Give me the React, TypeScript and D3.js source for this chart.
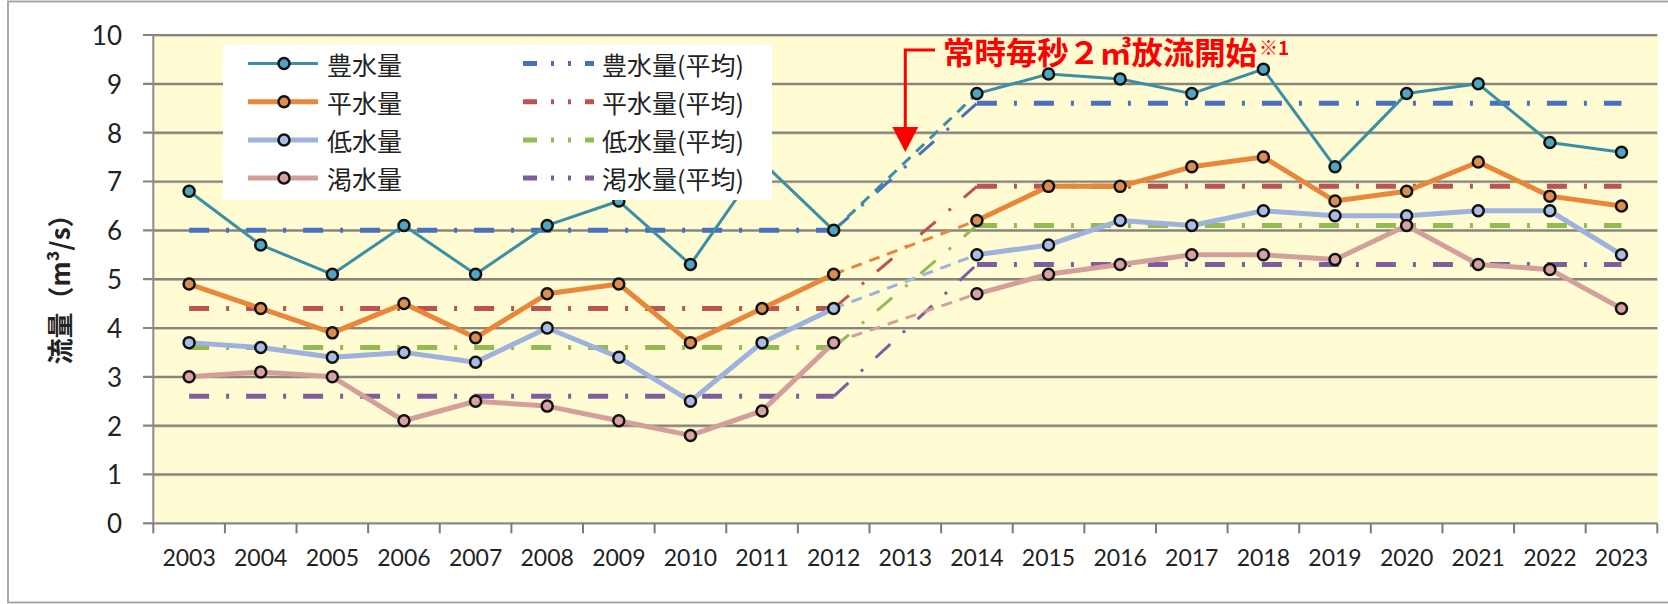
import React from "react";
import * as d3 from "d3";

const years = ["2003","2004","2005","2006","2007","2008","2009","2010","2011","2012","2013","2014","2015","2016","2017","2018","2019","2020","2021","2022","2023"];
const yTicks = [0, 1, 2, 3, 4, 5, 6, 7, 8, 9, 10];

const hosui = [6.8, 5.7, 5.1, 6.1, 5.1, 6.1, 6.6, 5.3, 7.4, 6.0, null, 8.8, 9.2, 9.1, 8.8, 9.3, 7.3, 8.8, 9.0, 7.8, 7.6];
const heisui = [4.9, 4.4, 3.9, 4.5, 3.8, 4.7, 4.9, 3.7, 4.4, 5.1, null, 6.2, 6.9, 6.9, 7.3, 7.5, 6.6, 6.8, 7.4, 6.7, 6.5];
const teisui = [3.7, 3.6, 3.4, 3.5, 3.3, 4.0, 3.4, 2.5, 3.7, 4.4, null, 5.5, 5.7, 6.2, 6.1, 6.4, 6.3, 6.3, 6.4, 6.4, 5.5];
const kassui = [3.0, 3.1, 3.0, 2.1, 2.5, 2.4, 2.1, 1.8, 2.3, 3.7, null, 4.7, 5.1, 5.3, 5.5, 5.5, 5.4, 6.1, 5.3, 5.2, 4.4];

const hosuiAvg = [6.0, 6.0, 6.0, 6.0, 6.0, 6.0, 6.0, 6.0, 6.0, 6.0, null, 8.6, 8.6, 8.6, 8.6, 8.6, 8.6, 8.6, 8.6, 8.6, 8.6];
const heisuiAvg = [4.4, 4.4, 4.4, 4.4, 4.4, 4.4, 4.4, 4.4, 4.4, 4.4, null, 6.9, 6.9, 6.9, 6.9, 6.9, 6.9, 6.9, 6.9, 6.9, 6.9];
const teisuiAvg = [3.6, 3.6, 3.6, 3.6, 3.6, 3.6, 3.6, 3.6, 3.6, 3.6, null, 6.1, 6.1, 6.1, 6.1, 6.1, 6.1, 6.1, 6.1, 6.1, 6.1];
const kassuiAvg = [2.6, 2.6, 2.6, 2.6, 2.6, 2.6, 2.6, 2.6, 2.6, 2.6, null, 5.3, 5.3, 5.3, 5.3, 5.3, 5.3, 5.3, 5.3, 5.3, 5.3];

const mainSeries = [
  { name: "豊水量", values: hosui, color: "#3a8fa5", fill: "#4fa6c2", width: 3 },
  { name: "平水量", values: heisui, color: "#e8873a", fill: "#d98e55", width: 5 },
  { name: "低水量", values: teisui, color: "#9db2dc", fill: "#a9bce4", width: 5 },
  { name: "渇水量", values: kassui, color: "#d49e9a", fill: "#d9a2a2", width: 5 },
];
const avgSeries = [
  { name: "豊水量(平均)", values: hosuiAvg, color: "#4a6fbd" },
  { name: "平水量(平均)", values: heisuiAvg, color: "#bb5350" },
  { name: "低水量(平均)", values: teisuiAvg, color: "#94ba52" },
  { name: "渇水量(平均)", values: kassuiAvg, color: "#7c5e9e" },
];

const W = 1668, H = 604;
const L = 153.3, R = 1657.3, T = 35, B = 523.3;
const AVG_DASH = "20,17,3,17";

type Pt = { x: number; y: number };

export default function App() {
  const x = d3.scaleBand<string>().domain(years).range([L, R]).padding(0);
  const y = d3.scaleLinear().domain([0, 10]).range([B, T]);
  const cx = (i: number) => (x(years[i]) as number) + x.bandwidth() / 2;

  const line = d3
    .line<number | null>()
    .defined((d) => d !== null)
    .x((_, i) => cx(i))
    .y((d) => y(d as number));

  const gaps = (vals: (number | null)[]) => {
    const segs: [Pt, Pt][] = [];
    for (let i = 0; i < vals.length; i++) {
      if (vals[i] === null) {
        let p = i - 1;
        while (p >= 0 && vals[p] === null) p--;
        let n = i + 1;
        while (n < vals.length && vals[n] === null) n++;
        if (p >= 0 && n < vals.length && (i === p + 1)) {
          segs.push([
            { x: cx(p), y: y(vals[p] as number) },
            { x: cx(n), y: y(vals[n] as number) },
          ]);
        }
      }
    }
    return segs;
  };

  const font = "Lato, 'Open Sans', sans-serif";
  const cjk = "'Noto Sans CJK JP', sans-serif";
  const legendRows = [63.5, 101.7, 140, 178];
  const xTickPos = years.map((yr) => x(yr) as number).concat([R]);

  return (
    <svg width={W} height={H} style={{ position: "absolute", left: 0, top: 0, background: "#fff" }}>
      <rect x={8} y={1.5} width={1700} height={601} fill="#fff" stroke="#a8a8a8" strokeWidth={2} />
      {/* plot background */}
      <rect x={L} y={T} width={R - L + 1} height={B - T} fill="#fffbd3" />
      {/* gridlines */}
      {yTicks.map((t) => (
        <g key={"g" + t}>
          {t > 0 && (
            <line x1={L} x2={R} y1={y(t) + 1} y2={y(t) + 1} stroke="#c9c6b0" strokeWidth={1.5} />
          )}
          <line x1={143} x2={t > 0 ? R : L} y1={y(t)} y2={y(t)} stroke="#86857a" strokeWidth={2.2} />
          <text x={122} y={y(t)} textAnchor="end" dominantBaseline="central" fontFamily={font} fontSize={26} fill="#222">
            {t}
          </text>
        </g>
      ))}
      {/* axes */}
      <line x1={L} x2={L} y1={T} y2={B} stroke="#8a8a8a" strokeWidth={2} />
      <line x1={L} x2={R} y1={B} y2={B} stroke="#8a8a8a" strokeWidth={2.2} />
      {xTickPos.map((px, i) => (
        <line key={"xt" + i} x1={px} x2={px} y1={B} y2={B + 10} stroke="#7a7a7a" strokeWidth={2} />
      ))}
      {years.map((yr, i) => (
        <text key={yr} x={cx(i)} y={566} textAnchor="middle" fontFamily={font} fontSize={23} fill="#222">
          {yr}
        </text>
      ))}

      {/* average lines */}
      {avgSeries.map((s) => (
        <g key={s.name}>
          <path d={line(s.values) || ""} fill="none" stroke={s.color} strokeWidth={5} strokeDasharray={AVG_DASH} />
          {gaps(s.values).map((sg, k) => (
            <line key={k} x1={sg[0].x} y1={sg[0].y} x2={sg[1].x} y2={sg[1].y} stroke={s.color} strokeWidth={3} strokeDasharray={AVG_DASH} />
          ))}
        </g>
      ))}

      {/* main series lines */}
      {mainSeries.map((s) => (
        <g key={s.name}>
          <path d={line(s.values) || ""} fill="none" stroke={s.color} strokeWidth={s.width} strokeLinejoin="round" />
          {gaps(s.values).map((sg, k) => (
            <line key={k} x1={sg[0].x} y1={sg[0].y} x2={sg[1].x} y2={sg[1].y} stroke={s.color} strokeWidth={3} strokeDasharray="11,8" />
          ))}
          {s.values.map((v, i) =>
            v === null ? null : (
              <circle key={i} cx={cx(i)} cy={y(v)} r={5.5} fill={s.fill} stroke="#111" strokeWidth={2.5} />
            )
          )}
        </g>
      ))}

      {/* legend */}
      <rect x={223} y={45} width={549} height={155} fill="#fff" />
      {mainSeries.map((s, i) => (
        <g key={"lg" + s.name}>
          <line x1={248} x2={318} y1={legendRows[i]} y2={legendRows[i]} stroke={s.color} strokeWidth={s.width} />
          <circle cx={284} cy={legendRows[i]} r={5.5} fill={s.fill} stroke="#111" strokeWidth={2.5} />
          <text x={327} y={legendRows[i]} dominantBaseline="central" fontFamily={cjk} fontSize={25} fill="#222">
            {s.name}
          </text>
        </g>
      ))}
      {avgSeries.map((s, i) => (
        <g key={"la" + s.name}>
          <line x1={523} x2={594} y1={legendRows[i]} y2={legendRows[i]} stroke={s.color} strokeWidth={5} strokeDasharray="14,14,3,14,3,14" />
          <text x={602} y={legendRows[i]} dominantBaseline="central" fontFamily={cjk} fontSize={25} fill="#222">
            {s.name}
          </text>
        </g>
      ))}

      {/* annotation */}
      <path d={`M935,50 L${cx(10)},50 L${cx(10)},128`} fill="none" stroke="#ff0000" strokeWidth={3} />
      <path d={`M${cx(10) - 13},127 L${cx(10) + 13},127 L${cx(10)},152 Z`} fill="#ff0000" />
      <text x={943} y={64} fontFamily={cjk} fontWeight={700} fontSize={31} fill="#ff0000" textLength={314} lengthAdjust="spacingAndGlyphs">
        常時毎秒２㎥放流開始
      </text>
      <text x={1259} y={55} fontFamily={cjk} fontWeight={700} fontSize={19} fill="#ff0000">
        ※1
      </text>

      {/* y axis title */}
      <text transform="translate(58,283) rotate(-90)" textAnchor="middle" dominantBaseline="central" fontFamily={cjk} fontWeight={700} fontSize={26} fill="#222">
        流量（m³/s）
      </text>
    </svg>
  );
}
